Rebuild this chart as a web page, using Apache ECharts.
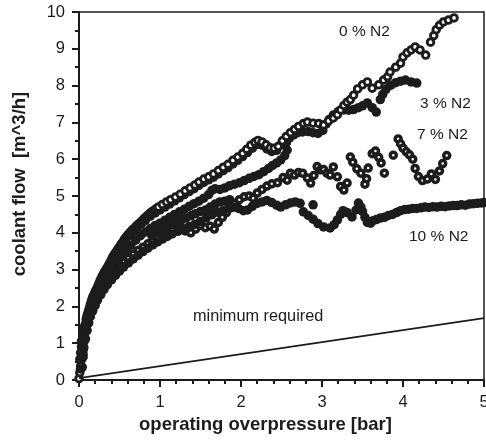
<!DOCTYPE html>
<html>
<head>
<meta charset="utf-8">
<script src="https://cdn.jsdelivr.net/npm/echarts@6/dist/echarts.min.js"></script>
<style>
  html, body { margin: 0; padding: 0; background: #fff; }
  #chart { width: 486px; height: 448px; }
</style>
</head>
<body>
<div id="chart"></div>
<script>
// values: [overpressure bar, flow m^3/h]
var n2_0 = [
  [0.00,0.04],[0.01,0.20],[0.02,0.38],[0.01,0.56],[0.02,0.74],[0.03,0.90],[0.03,1.06],[0.05,1.22],[0.06,1.37],[0.07,1.45],
  [0.08,1.52],[0.09,1.67],[0.10,1.75],[0.11,1.82],[0.12,1.90],[0.13,1.97],[0.14,2.05],[0.15,2.12],[0.16,2.19],[0.17,2.26],
  [0.185,2.33],[0.20,2.40],[0.215,2.47],[0.23,2.54],[0.245,2.62],[0.26,2.70],[0.275,2.77],[0.29,2.84],[0.305,2.90],[0.32,2.96],
  [0.34,3.03],[0.36,3.10],[0.375,3.16],[0.39,3.22],[0.405,3.29],[0.42,3.36],[0.44,3.43],[0.46,3.49],[0.48,3.56],[0.50,3.62],
  [0.52,3.69],[0.54,3.75],[0.56,3.82],[0.58,3.88],[0.605,3.95],[0.63,4.01],[0.655,4.07],[0.68,4.12],[0.705,4.18],[0.73,4.23],
  [0.755,4.28],[0.78,4.33],[0.805,4.39],[0.83,4.44],[0.855,4.49],[0.88,4.54],[0.905,4.58],[0.93,4.62],[0.955,4.66],[0.98,4.70],
  [1.03,4.77],[1.08,4.84],[1.13,4.90],[1.19,4.97],[1.25,5.05],[1.31,5.14],[1.37,5.22],[1.43,5.30],[1.48,5.38],[1.54,5.46],
  [1.60,5.52],[1.66,5.60],[1.72,5.69],[1.78,5.78],[1.84,5.86],[1.90,5.97],[1.96,6.06],[2.02,6.16],[2.07,6.27],[2.12,6.38],
  [2.17,6.46],[2.21,6.51],[2.26,6.47],[2.31,6.39],[2.36,6.31],[2.41,6.30],[2.46,6.35],[2.51,6.50],[2.56,6.62],[2.61,6.72],
  [2.66,6.81],[2.71,6.89],[2.77,6.97],[2.82,7.01],[2.89,6.98],[2.96,6.97],[3.02,6.93],[3.08,7.04],[3.14,7.12],[3.19,7.21],
  [3.23,7.34],[3.27,7.46],[3.31,7.55],[3.35,7.62],[3.39,7.74],[3.44,7.91],[3.50,8.02],[3.56,8.10],[3.62,7.93],[3.70,8.02],
  [3.76,8.15],[3.81,8.24],[3.84,8.37],[3.91,8.50],[3.97,8.61],[4.00,8.78],[4.05,8.89],[4.10,8.97],[4.15,9.05],[4.21,8.97],
  [4.28,8.83],[4.34,9.18],[4.38,9.36],[4.41,9.52],[4.45,9.64],[4.50,9.73],[4.56,9.78],[4.63,9.84]
];
var n2_3 = [
  // run along the upper band
  [0.02,0.30],[0.03,0.62],[0.04,0.95],[0.05,1.25],[0.07,1.45],[0.09,1.62],[0.11,1.77],[0.13,1.90],[0.15,2.05],[0.18,2.20],
  [0.21,2.34],[0.24,2.48],[0.27,2.62],[0.30,2.76],[0.34,2.94],[0.38,3.08],[0.41,3.22],[0.45,3.37],[0.49,3.52],[0.53,3.65],
  [0.57,3.79],[0.62,3.92],[0.67,4.03],[0.72,4.14],[0.77,4.24],[0.82,4.34],[0.88,4.45],[0.94,4.54],[1.00,4.62],[1.06,4.70],
  [1.12,4.78],[1.18,4.87],[1.24,4.95],[1.30,5.04],[1.36,5.12],[1.42,5.20],[1.48,5.29],[1.54,5.37],[1.60,5.44],[1.66,5.51],
  [1.72,5.60],[1.78,5.69],[1.84,5.77],[1.90,5.87],[1.96,5.97],[2.02,6.07],[2.08,6.18],[2.14,6.30],[2.20,6.40],[2.26,6.38],
  [2.32,6.28],[2.38,6.21],[2.44,6.24],[2.50,6.40],
  // run along the second band
  [0.05,0.70],[0.06,1.10],[0.08,1.40],[0.11,1.70],[0.14,1.95],[0.18,2.18],[0.22,2.38],[0.26,2.55],[0.31,2.74],[0.36,2.92],
  [0.41,3.08],[0.46,3.22],[0.52,3.36],[0.58,3.52],[0.64,3.66],[0.70,3.80],[0.76,3.92],[0.82,4.02],[0.88,4.12],[0.94,4.20],
  [1.00,4.26],[1.06,4.34],[1.12,4.42],[1.18,4.50],[1.24,4.57],[1.30,4.64],[1.36,4.72],[1.42,4.79],[1.48,4.86],[1.54,4.94],
  [1.60,5.04],[1.64,5.15],[1.68,5.20],[1.74,5.18],[1.80,5.22],[1.86,5.28],[1.92,5.32],[1.98,5.36],[2.04,5.42],[2.10,5.48],
  [2.16,5.53],[2.22,5.58],[2.28,5.66],[2.34,5.75],[2.39,5.83],[2.44,5.90],[2.49,5.98],[2.54,6.10],[2.57,6.25],[2.56,6.45],
  [2.60,6.58],[2.65,6.66],[2.70,6.72],[2.76,6.74],[2.83,6.75],[2.89,6.72],[2.95,6.70],[3.01,6.78],[3.05,6.95],[3.09,7.08],
  [3.14,7.20],[3.20,7.29],[3.27,7.34],[3.33,7.33],[3.39,7.35],[3.45,7.40],[3.50,7.45],[3.56,7.53],[3.62,7.40],[3.67,7.28],
  [3.72,7.62],[3.75,7.76],[3.79,7.90],[3.85,8.01],[3.91,8.08],[3.97,8.12],[4.03,8.15],[4.10,8.10],[4.17,8.07]
];
var n2_7 = [
  [0.02,0.30],[0.03,0.55],[0.05,0.80],[0.06,1.04],[0.07,1.26],[0.09,1.45],[0.11,1.62],[0.13,1.78],[0.16,1.93],[0.19,2.08],
  [0.22,2.22],[0.25,2.35],[0.29,2.48],[0.33,2.61],[0.37,2.74],[0.41,2.86],[0.46,2.98],[0.51,3.10],[0.56,3.21],[0.61,3.31],
  [0.67,3.42],[0.73,3.52],[0.79,3.61],[0.85,3.70],[0.91,3.78],[0.97,3.86],[1.03,3.93],[1.09,4.00],[1.15,4.08],[1.20,4.33],
  [1.25,4.14],[1.31,4.05],[1.38,4.00],[1.44,4.10],[1.50,4.20],[1.56,4.14],[1.62,4.18],[1.67,4.10],[1.72,4.28],[1.77,4.42],
  [1.82,4.55],[1.87,4.68],[1.92,4.80],[1.98,4.90],[2.04,4.98],[2.10,5.00],[2.15,4.94],[2.20,5.08],[2.26,5.18],[2.32,5.27],
  [2.38,5.33],[2.45,5.36],[2.52,5.50],[2.57,5.43],[2.61,5.62],[2.66,5.57],[2.71,5.64],[2.76,5.62],[2.82,5.49],[2.86,5.35],
  [2.90,5.56],[2.94,5.80],[2.98,5.71],[3.02,5.72],[3.06,5.62],[3.10,5.57],[3.14,5.79],[3.19,5.52],[3.23,5.26],[3.27,5.16],
  [3.31,5.35],[3.35,6.06],[3.38,5.92],[3.43,5.74],[3.48,5.62],[3.53,5.32],[3.55,5.47],[3.57,5.76],[3.62,6.15],[3.66,6.22],
  [3.70,6.05],[3.73,5.90],[3.77,5.62],[3.88,6.11],[3.94,6.55],[3.97,6.42],[4.00,6.30],[4.04,6.20],[4.08,6.12],[4.12,6.00],
  [4.15,5.75],[4.19,5.53],[4.24,5.42],[4.30,5.46],[4.35,5.60],[4.40,5.45],[4.45,5.68],[4.49,5.88],[4.54,6.10]
];
var n2_10 = [
  [0.04,0.35],[0.05,0.62],[0.06,0.88],[0.08,1.12],[0.10,1.35],[0.12,1.55],[0.14,1.72],[0.17,1.88],[0.20,2.03],[0.23,2.18],
  [0.27,2.32],[0.31,2.46],[0.35,2.59],[0.40,2.72],[0.45,2.84],[0.50,2.96],[0.55,3.07],[0.61,3.18],[0.67,3.29],[0.73,3.39],
  [0.79,3.49],[0.85,3.58],[0.91,3.67],[0.97,3.75],[1.03,3.83],[1.09,3.90],[1.15,3.97],[1.22,4.04],[1.29,4.11],[1.36,4.17],
  [1.43,4.23],[1.50,4.31],[1.57,4.40],[1.64,4.49],[1.71,4.56],[1.78,4.60],[1.85,4.66],[1.91,4.70],[1.97,4.66],[2.03,4.60],
  [2.08,4.62],[2.14,4.72],[2.20,4.80],[2.26,4.84],[2.32,4.88],[2.38,4.82],[2.44,4.75],[2.49,4.70],[2.55,4.76],[2.61,4.81],
  [2.67,4.84],[2.73,4.80],[2.77,4.57],[2.83,4.47],[2.89,4.76],[2.89,4.37],[2.95,4.25],[3.02,4.16],[3.10,4.13],[3.15,4.22],
  [3.19,4.35],[3.23,4.50],[3.26,4.60],[3.31,4.55],[3.37,4.43],[3.42,4.62],[3.45,4.81],[3.48,4.70],[3.50,4.58],[3.53,4.42],
  [3.56,4.28],[3.60,4.26],[3.63,4.33],[3.67,4.36],[3.72,4.40],[3.77,4.42],[3.82,4.47],[3.87,4.50],[3.92,4.55],[3.97,4.60],
  [4.02,4.63],[4.07,4.64],[4.12,4.66],[4.17,4.66],[4.22,4.68],[4.27,4.70],[4.32,4.69],[4.37,4.71],[4.42,4.70],[4.47,4.72],
  [4.52,4.71],[4.57,4.73],[4.62,4.74],[4.67,4.74],[4.72,4.76],[4.77,4.75],[4.82,4.78],[4.87,4.79],[4.92,4.80],[4.97,4.81],
  [5.00,4.82],
  // second pass, inside the lower band
  [0.90,3.92],[0.96,4.00],[1.02,4.06],[1.08,4.14],[1.14,4.22],[1.20,4.28],[1.26,4.34],[1.32,4.40],[1.38,4.46],[1.44,4.52],
  [1.50,4.58],[1.56,4.62],[1.62,4.70],[1.68,4.78],[1.74,4.84],[1.80,4.86],[1.86,4.90]
];
// minimum required flow (straight line)
var minX = [0, 5];
var minY = [0.05, 1.68];

var ink = '#1c1c1c';
var font = '"Liberation Sans", Arial, sans-serif';

function openSeries(name, data, size, bw) {
    return {
        name: name, type: 'scatter', data: data,
        symbol: 'circle', symbolSize: size,
        itemStyle: { color: '#fff', borderColor: ink, borderWidth: bw, opacity: 1 },
        emphasis: { disabled: true }
    };
}
function filledSeries(name, data) {
    return {
        name: name, type: 'scatter', data: data,
        symbol: 'circle', symbolSize: 9.5,
        itemStyle: { color: ink, opacity: 1 },
        emphasis: { disabled: true }
    };
}

// in the dense blob near the origin the filled 3 % points lie over the open 0 % ones
var n2_3_front = n2_3.filter(function (p) { return p[0] < 0.9; });
var n2_3_back = n2_3.filter(function (p) { return p[0] >= 0.9; });

var chart = echarts.init(document.getElementById('chart'));
chart.setOption({
    animation: false,
    backgroundColor: '#fff',
    grid: {
        left: 79, right: 2, top: 12, bottom: 68, outerBoundsMode: 'none', containLabel: false,
        show: true, borderColor: ink, borderWidth: 1.5
    },
    xAxis: {
        type: 'value', min: 0, max: 5, interval: 1,
        axisLine: { show: true, lineStyle: { color: ink, width: 2 } },
        axisTick: { show: true, length: 7, lineStyle: { color: ink, width: 2 } },
        minorTick: { show: true, splitNumber: 5, length: 4, lineStyle: { color: ink, width: 2 } },
        splitLine: { show: false },
        axisLabel: { fontSize: 16.5, color: ink, margin: 14, fontFamily: font },
        name: 'operating overpressure [bar]', nameLocation: 'middle', nameGap: 33,
        nameTextStyle: { fontSize: 18.5, fontWeight: 'bold', color: ink, fontFamily: font, padding: [0, 32, 0, 0] }
    },
    yAxis: {
        type: 'value', min: 0, max: 10, interval: 1,
        axisLine: { show: true, lineStyle: { color: ink, width: 2 } },
        axisTick: { show: true, length: 7, lineStyle: { color: ink, width: 2 } },
        minorTick: { show: true, splitNumber: 2, length: 4, lineStyle: { color: ink, width: 2 } },
        splitLine: { show: false },
        axisLabel: { fontSize: 16.5, color: ink, margin: 14, fontFamily: font },
        name: 'coolant flow  [m^3/h]', nameLocation: 'middle', nameGap: 50, nameRotate: 90,
        nameTextStyle: { fontSize: 18.5, fontWeight: 'bold', color: ink, fontFamily: font, padding: [0, 0, 0, 24] }
    },
    graphic: [
        { type: 'text', left: 339, top: 24, style: { text: '0 % N2', font: '15.5px ' + font, fill: ink } },
        { type: 'text', left: 420, top: 96, style: { text: '3 % N2', font: '15.5px ' + font, fill: ink } },
        { type: 'text', left: 417, top: 127, style: { text: '7 % N2', font: '15.5px ' + font, fill: ink } },
        { type: 'text', left: 409, top: 229, style: { text: '10 % N2', font: '15.5px ' + font, fill: ink } },
        { type: 'text', left: 193, top: 309, style: { text: 'minimum required', font: '16.3px ' + font, fill: ink } }
    ],
    series: [
        openSeries('7 % N2', n2_7, 6, 3.5),
        filledSeries('10 % N2', n2_10),
        filledSeries('3 % N2', n2_3_back),
        openSeries('0 % N2', n2_0, 6.6, 2.9),
        filledSeries('3 % N2', n2_3_front),
        {
            name: 'minimum required', type: 'line', symbol: 'none',
            data: minX.map(function (x, i) { return [x, minY[i]]; }),
            lineStyle: { color: ink, width: 1.8 }
        }
    ]
});
</script>
</body>
</html>
